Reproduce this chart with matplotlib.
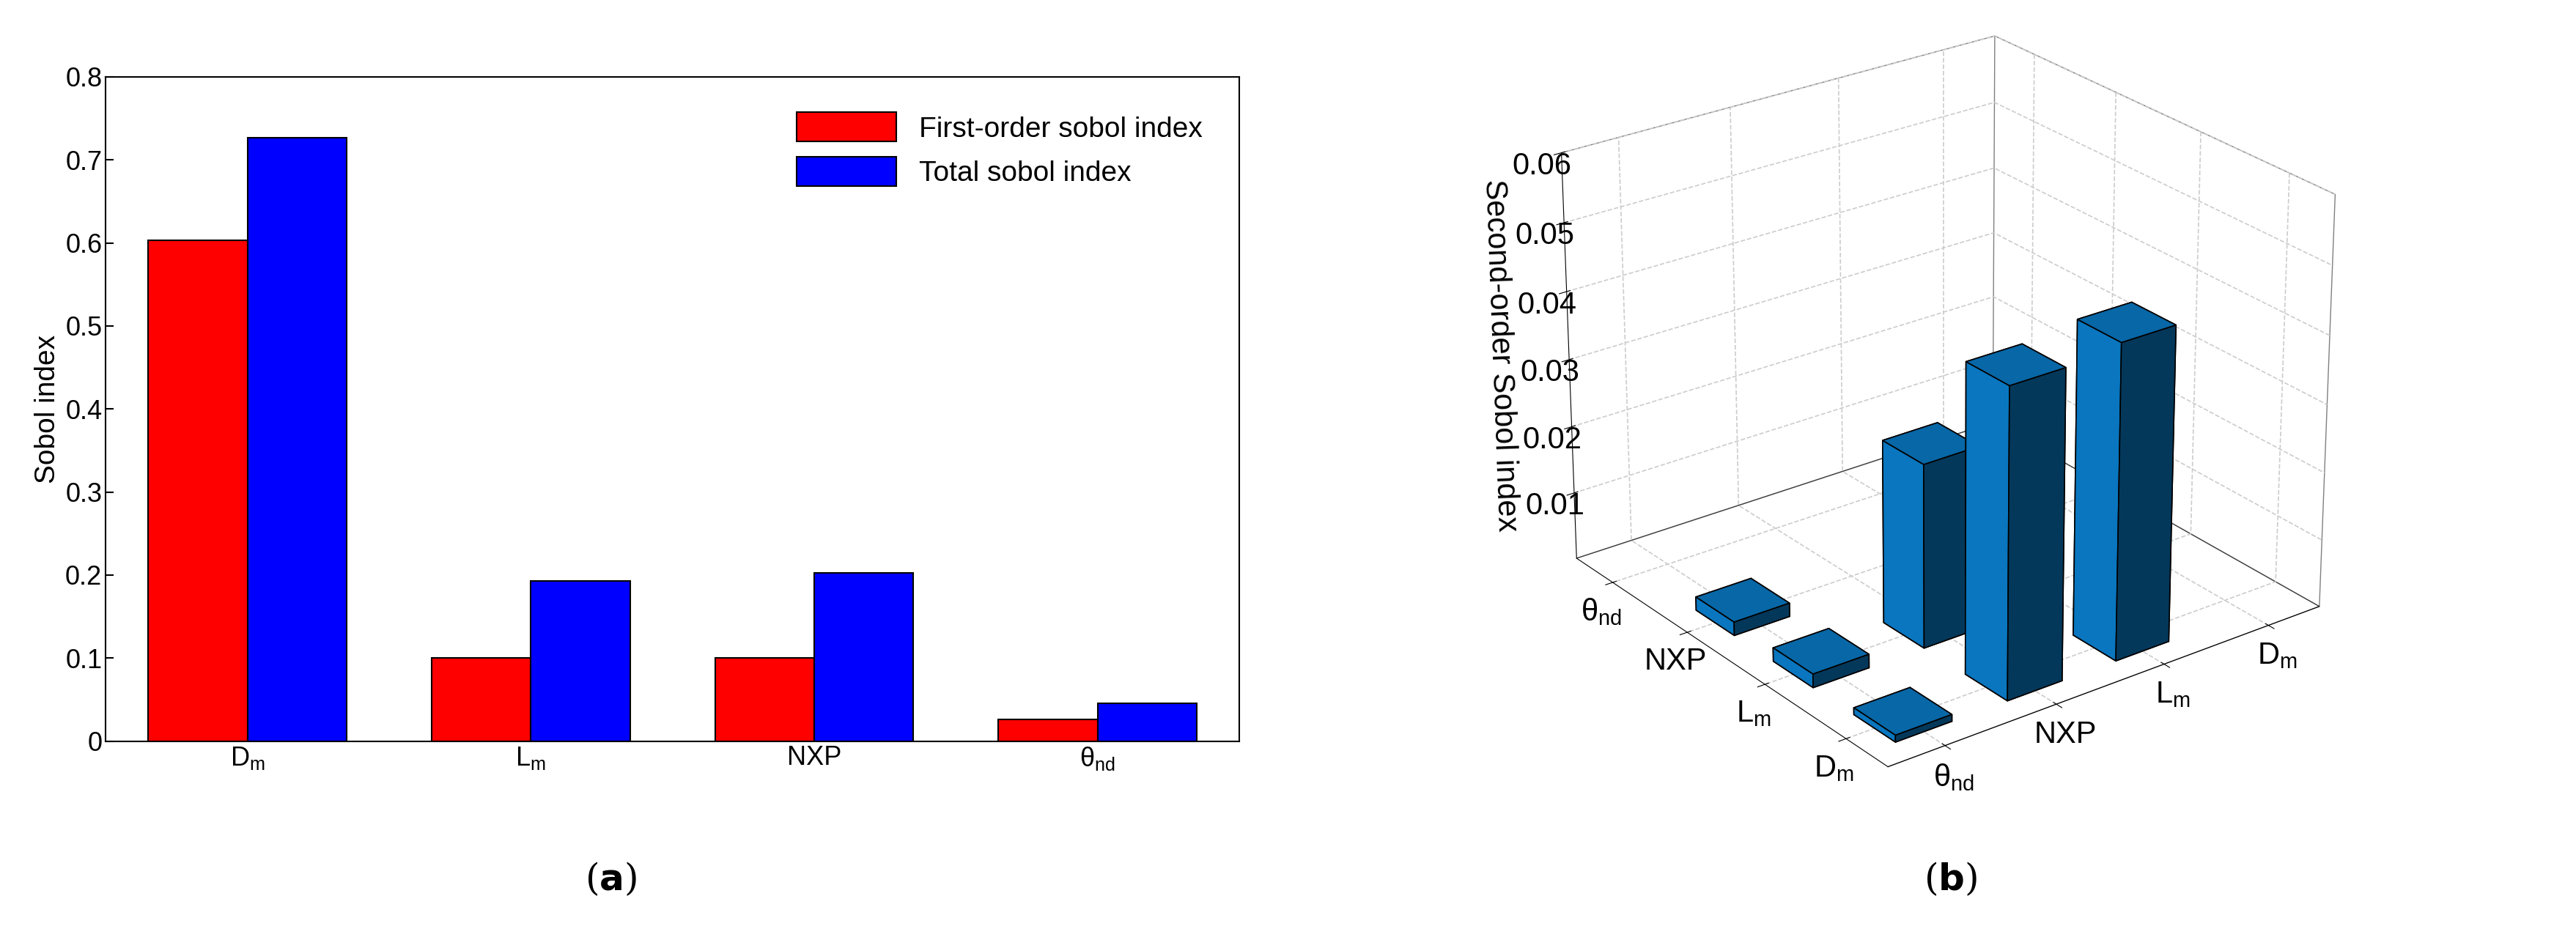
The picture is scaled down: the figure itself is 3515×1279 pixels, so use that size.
import matplotlib
matplotlib.use("Agg")
import matplotlib.pyplot as plt
import numpy as np

params = [r'D$_\mathregular{m}$', r'L$_\mathregular{m}$', 'NXP', r'θ$_\mathregular{nd}$']
first_order = [0.603, 0.100, 0.100, 0.026]
total = [0.727, 0.193, 0.203, 0.046]

labels3d = [r'θ$_\mathregular{nd}$', 'NXP', r'L$_\mathregular{m}$', r'D$_\mathregular{m}$']
# (row index on left axis, column index on right axis, value)
pair_rows = [1, 2, 3, 2, 3, 3]
pair_cols = [0, 0, 0, 1, 1, 2]
pair_vals = [0.002, 0.002, 0.001, 0.027, 0.045, 0.046]

plt.rcParams['font.family'] = ['Arial', 'Liberation Sans', 'DejaVu Sans']
fig = plt.figure(figsize=(35.16, 12.79), dpi=100)

ax = fig.add_axes([0.041, 0.209, 0.44, 0.709])
x = np.arange(len(params))
w = 0.35
ax.bar(x - w/2, first_order, w, color='red', edgecolor='black', linewidth=1.5, label='First-order sobol index')
ax.bar(x + w/2, total, w, color='blue', edgecolor='black', linewidth=1.5, label='Total sobol index')
ax.set_xlim(-0.5, 3.5)
ax.set_ylim(0, 0.8)
ax.set_xticks(x)
ax.set_xticklabels(params)
ax.set_yticks(np.arange(0, 0.81, 0.1))
ax.set_yticklabels(['0'] + [f'{v:.1f}' for v in np.arange(0.1, 0.81, 0.1)])
ax.tick_params(labelsize=26, direction='in', length=8, width=1.5)
ax.set_ylabel('Sobol index', fontsize=28)
for s in ax.spines.values():
    s.set_linewidth(1.5)
ax.legend(loc='upper right', fontsize=28, frameon=False, handlelength=3.5, handleheight=1.2,
          bbox_to_anchor=(0.99, 0.985))

ax3 = fig.add_axes([0.50, 0.12, 0.50, 0.92], projection='3d')
dx = dy = 0.5
xs = np.array(pair_cols) + 1 - dx/2
ys = np.array(pair_rows) + 1 - dy/2
ax3.bar3d(xs, ys, np.zeros(len(pair_vals)), dx, dy, pair_vals, color='#0a86d8',
          edgecolor='black', linewidth=1.2, shade=True)
ax3.set_xlim(0.5, 4.5)
ax3.set_ylim(4.5, 0.5)
ax3.set_zlim(0, 0.06)
ax3.set_xticks([1, 2, 3, 4])
ax3.set_xticklabels(labels3d)
ax3.set_yticks([1, 2, 3, 4])
ax3.set_yticklabels(labels3d)
ax3.set_zticks([0.01, 0.02, 0.03, 0.04, 0.05, 0.06])
ax3.set_zticklabels(['0.01', '0.02', '0.03', '0.04', '0.05', '0.06'])
ax3.tick_params(labelsize=30)
ax3.set_zlabel('Second-order Sobol index', fontsize=30, labelpad=20)
ax3.view_init(elev=25, azim=-127)
for a in (ax3.xaxis, ax3.yaxis, ax3.zaxis):
    a.pane.fill = False
    a.pane.set_edgecolor('black')
    a._axinfo['grid'].update(color='#cccccc', linestyle='--', linewidth=1.2)
ax3.set_box_aspect((1.2, 1.2, 1))

fig.text(0.237, 0.05, r'($\mathbf{a}$)', fontsize=36, family='serif', ha='center')
fig.text(0.757, 0.05, r'($\mathbf{b}$)', fontsize=36, family='serif', ha='center')
fig.savefig('out.png', dpi=100)
